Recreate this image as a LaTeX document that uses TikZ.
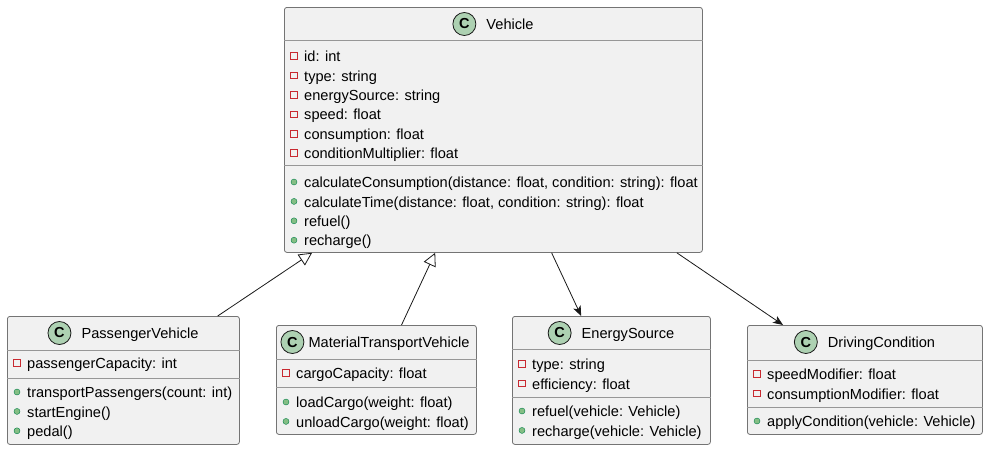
\documentclass[tikz,border=0pt]{standalone}
\usepackage{fontspec}
\setmainfont{Liberation Sans}
\usepackage{tikz}
\usetikzlibrary{arrows.meta,positioning,calc}
\usepackage{xcolor}
\definecolor{boxfill}{HTML}{F1F1F1}
\definecolor{boxline}{HTML}{181818}
\definecolor{iconfill}{HTML}{ADD1B2}
\definecolor{privred}{HTML}{C82930}
\definecolor{pubgreen}{HTML}{84BE84}
\definecolor{pubdark}{HTML}{038048}

\tikzset{
  classbox/.style={draw=boxline!60, fill=boxfill, line width=0.8pt, rounded corners=2.5pt,
    anchor=north west, inner sep=0pt},
  divider/.style={draw=boxline!45, line width=0.8pt},
  classicon/.style={circle, draw=boxline, fill=iconfill, line width=0.8pt, minimum size=23pt,
    inner sep=0pt, font=\bfseries\fontsize{14.5}{14.5}\selectfont},
  classname/.style={inner sep=0pt, text height=14.5pt, text depth=3pt, font=\fontsize{14.6}{16}\selectfont},
  member/.style={anchor=west, inner sep=0pt, text height=14.5pt, text depth=3pt,
    font=\fontsize{14.6}{16}\selectfont},
  attricon/.style={draw=privred, line width=0.7pt, minimum size=6.5pt, inner sep=0pt},
  methicon/.style={circle, fill=pubgreen, draw=pubdark, line width=0.4pt, minimum size=6pt, inner sep=0pt},
  inherit/.style={draw=boxline, line width=0.8pt, -{Triangle[open, length=13pt, width=13pt]}},
  assoc/.style={draw=boxline, line width=0.8pt, -{Stealth[length=10pt, width=8pt, inset=2.5pt]}}
}

\begin{document}
\begin{tikzpicture}[x=1pt, y=-1pt]
    \useasboundingbox (0,0) rectangle (985,448);

    % Vehicle
    \node[classbox, minimum width=418pt, minimum height=245pt] (vehicle) at (284,7) {};
    \node[classname] (vehicle-name) at (510,24) {Vehicle};
    \node[classicon, left=10pt of vehicle-name] (vehicle-icon) {C};
    \draw[divider] (vehicle.west |- 0,40) -- (vehicle.east |- 0,40);
    \draw[divider] (vehicle.west |- 0,165) -- (vehicle.east |- 0,165);
    \foreach \m [count=\i from 0] in {id: int, type: string, energySource: string, speed: float,
        consumption: float, conditionMultiplier: float} {
        \node[attricon] (v-ai\i) at (294,{56+19.4*\i}) {};
        \node[member] (v-a\i) at (304,{56+19.4*\i}) {\m};
    }
    \foreach \m [count=\i from 0] in {{calculateConsumption(distance: float, condition: string): float},
        {calculateTime(distance: float, condition: string): float}, refuel(), recharge()} {
        \node[methicon] (v-mi\i) at (294,{182+19.4*\i}) {};
        \node[member] (v-m\i) at (304,{182+19.4*\i}) {\m};
    }

    % PassengerVehicle
    \node[classbox, minimum width=232pt, minimum height=128pt] (passenger) at (7,316) {};
    \node[classname] (passenger-name) at (140,333) {PassengerVehicle};
    \node[classicon, left=10pt of passenger-name] (passenger-icon) {C};
    \draw[divider] (passenger.west |- 0,350) -- (passenger.east |- 0,350);
    \draw[divider] (passenger.west |- 0,378) -- (passenger.east |- 0,378);
    \node[attricon] (p-ai0) at (17,363) {};
    \node[member] (p-a0) at (27,363) {passengerCapacity: int};
    \foreach \m [count=\i from 0] in {transportPassengers(count: int), startEngine(), pedal()} {
        \node[methicon] (p-mi\i) at (17,{392+19.4*\i}) {};
        \node[member] (p-m\i) at (27,{392+19.4*\i}) {\m};
    }

    % MaterialTransportVehicle
    \node[classbox, minimum width=200pt, minimum height=109pt] (material) at (276,325) {};
    \node[classname] (material-name) at (389,342) {MaterialTransportVehicle};
    \node[classicon, left=4pt of material-name] (material-icon) {C};
    \draw[divider] (material.west |- 0,359) -- (material.east |- 0,359);
    \draw[divider] (material.west |- 0,387) -- (material.east |- 0,387);
    \node[attricon] (m-ai0) at (286,373) {};
    \node[member] (m-a0) at (296,373) {cargoCapacity: float};
    \foreach \m [count=\i from 0] in {loadCargo(weight: float), unloadCargo(weight: float)} {
        \node[methicon] (m-mi\i) at (286,{402+19.4*\i}) {};
        \node[member] (m-m\i) at (296,{402+19.4*\i}) {\m};
    }

    % EnergySource
    \node[classbox, minimum width=198pt, minimum height=128pt] (energy) at (512,316) {};
    \node[classname] (energy-name) at (628,333) {EnergySource};
    \node[classicon, left=10pt of energy-name] (energy-icon) {C};
    \draw[divider] (energy.west |- 0,349) -- (energy.east |- 0,349);
    \draw[divider] (energy.west |- 0,397) -- (energy.east |- 0,397);
    \foreach \m [count=\i from 0] in {type: string, efficiency: float} {
        \node[attricon] (e-ai\i) at (522,{364+19.4*\i}) {};
        \node[member] (e-a\i) at (532,{364+19.4*\i}) {\m};
    }
    \foreach \m [count=\i from 0] in {refuel(vehicle: Vehicle), recharge(vehicle: Vehicle)} {
        \node[methicon] (e-mi\i) at (522,{411+19.4*\i}) {};
        \node[member] (e-m\i) at (532,{411+19.4*\i}) {\m};
    }

    % DrivingCondition
    \node[classbox, minimum width=235pt, minimum height=109pt] (driving) at (747,325) {};
    \node[classname] (driving-name) at (881.5,342) {DrivingCondition};
    \node[classicon, left=10pt of driving-name] (driving-icon) {C};
    \draw[divider] (driving.west |- 0,360) -- (driving.east |- 0,360);
    \draw[divider] (driving.west |- 0,407) -- (driving.east |- 0,407);
    \foreach \m [count=\i from 0] in {speedModifier: float, consumptionModifier: float} {
        \node[attricon] (d-ai\i) at (757,{374+19.4*\i}) {};
        \node[member] (d-a\i) at (767,{374+19.4*\i}) {\m};
    }
    \node[methicon] (d-mi0) at (757,421) {};
    \node[member] (d-m0) at (767,421) {applyCondition(vehicle: Vehicle)};

    % Relations
    \draw[inherit] ($(passenger.north west)!0.905!(passenger.north east)$)
        -- ($(vehicle.south west)!0.067!(vehicle.south east)$);
    \draw[inherit] ($(material.north west)!0.625!(material.north east)$)
        -- ($(vehicle.south west)!0.361!(vehicle.south east)$);
    \draw[assoc] ($(vehicle.south west)!0.639!(vehicle.south east)$)
        -- ($(energy.north west)!0.348!(energy.north east)$);
    \draw[assoc] ($(vehicle.south west)!0.938!(vehicle.south east)$)
        -- ($(driving.north west)!0.153!(driving.north east)$);
\end{tikzpicture}
\end{document}
